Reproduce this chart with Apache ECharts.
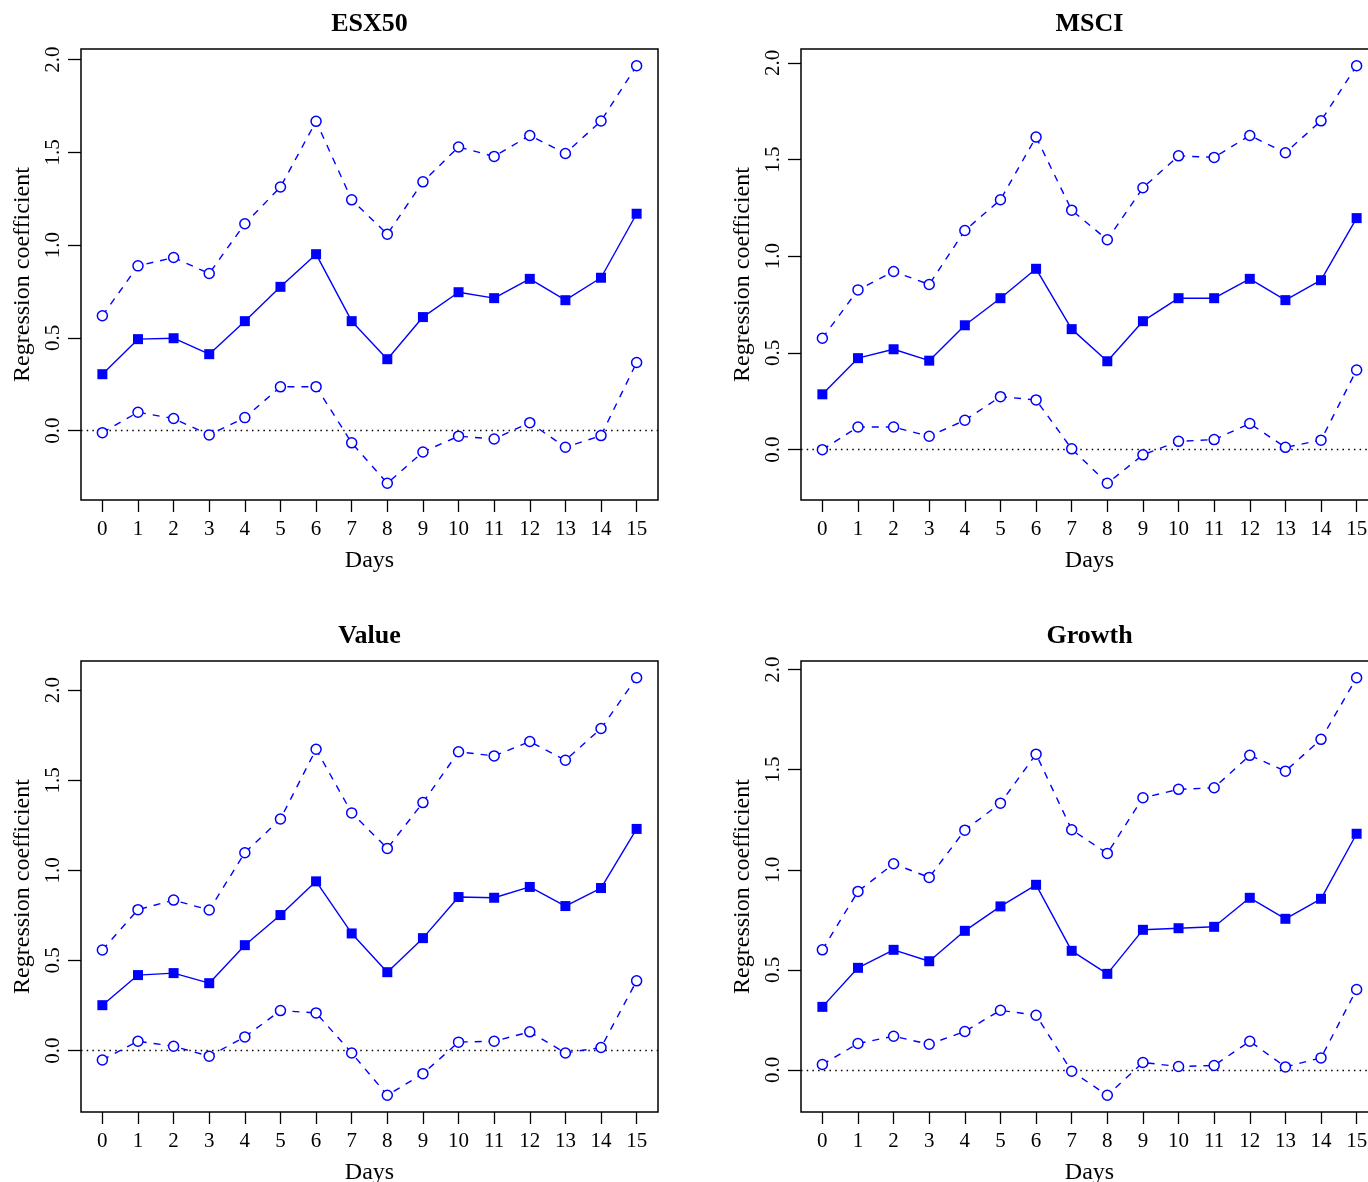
<!DOCTYPE html>
<html>
<head>
<meta charset="utf-8">
<script src="https://cdn.jsdelivr.net/npm/echarts@6/dist/echarts.min.js"></script>
<style>
html,body{margin:0;padding:0;background:#fff;overflow:hidden;width:1368px;height:1182px;}
#c{width:1384px;height:1200px;}
</style>
</head>
<body>
<div id="c"></div>
<script>
// ---- data ----
const days = [0,1,2,3,4,5,6,7,8,9,10,11,12,13,14,15];
const xTicks = [0,1,2,3,4,5,6,7,8,9,10,11,12,13,14,15];
const yTicks = [0, 0.5, 1.0, 1.5, 2.0];
const panelTitles = ["ESX50", "MSCI", "Value", "Growth"];

const esxUpper = [0.619,0.888,0.933,0.847,1.115,1.313,1.667,1.244,1.059,1.341,1.529,1.478,1.591,1.494,1.669,1.967];
const esxMid   = [0.304,0.493,0.498,0.412,0.590,0.775,0.951,0.590,0.385,0.612,0.746,0.714,0.818,0.703,0.824,1.169];
const esxLower = [-0.011,0.099,0.065,-0.023,0.070,0.236,0.237,-0.066,-0.284,-0.115,-0.030,-0.045,0.043,-0.090,-0.027,0.367];

const msciUpper = [0.576,0.826,0.921,0.854,1.133,1.292,1.616,1.238,1.085,1.354,1.519,1.511,1.624,1.535,1.700,1.985];
const msciMid   = [0.286,0.473,0.519,0.460,0.643,0.783,0.935,0.623,0.457,0.664,0.783,0.783,0.883,0.773,0.876,1.197];
const msciLower = [0.000,0.117,0.117,0.069,0.152,0.274,0.257,0.004,-0.174,-0.027,0.043,0.052,0.135,0.012,0.049,0.412];

const valueUpper = [0.558,0.782,0.835,0.780,1.098,1.285,1.672,1.319,1.122,1.376,1.658,1.635,1.715,1.611,1.787,2.069];
const valueMid   = [0.252,0.419,0.430,0.374,0.585,0.752,0.939,0.650,0.435,0.624,0.852,0.848,0.908,0.802,0.902,1.230];
const valueLower = [-0.052,0.052,0.024,-0.031,0.076,0.222,0.209,-0.013,-0.248,-0.128,0.047,0.052,0.104,-0.013,0.017,0.387];

const growthUpper = [0.600,0.892,1.030,0.962,1.198,1.333,1.578,1.200,1.082,1.360,1.402,1.410,1.572,1.493,1.652,1.960];
const growthMid   = [0.315,0.510,0.600,0.543,0.695,0.817,0.925,0.595,0.480,0.700,0.708,0.715,0.860,0.755,0.855,1.180];
const growthLower = [0.027,0.132,0.168,0.128,0.192,0.298,0.273,-0.007,-0.127,0.037,0.017,0.022,0.143,0.015,0.060,0.402];

const panels = [
  {upper: esxUpper, mid: esxMid, lower: esxLower},
  {upper: msciUpper, mid: msciMid, lower: msciLower},
  {upper: valueUpper, mid: valueMid, lower: valueLower},
  {upper: growthUpper, mid: growthMid, lower: growthLower}
];

// ---- layout / style ----
const FONT = "'Liberation Serif', 'DejaVu Serif', serif";
const BLUE = '#0000ff';
const gridPos = [
  {left: 81, top: 49, width: 577, height: 451},
  {left: 801, top: 49, width: 577, height: 451},
  {left: 81, top: 661, width: 577, height: 451},
  {left: 801, top: 661, width: 577, height: 451}
];

const grids = [], xAxes = [], yAxes = [], series = [], titles = [];

panels.forEach((p, i) => {
  const g = gridPos[i];
  grids.push({left: g.left, top: g.top, width: g.width, height: g.height,
    outerBoundsMode: 'none', containLabel: false,
    show: true, borderColor: '#000', borderWidth: 1.5, backgroundColor: 'transparent'});
  titles.push({text: panelTitles[i], left: g.left + g.width / 2 - 5, top: g.top - 43, textAlign: 'center',
    textStyle: {fontFamily: FONT, fontWeight: 'bold', fontSize: 26, color: '#000'}});

  const all = p.upper.concat(p.mid, p.lower);
  const lo = Math.min.apply(null, all), hi = Math.max.apply(null, all);
  const pad = (hi - lo) * 0.04;
  const xlo = days[0], xhi = days[days.length - 1], xpad = (xhi - xlo) * 0.04;

  xAxes.push({
    type: 'value', gridIndex: i, min: xlo - xpad, max: xhi + xpad, position: 'bottom',
    axisLine: {show: false, onZero: false}, splitLine: {show: false},
    axisTick: {show: true, inside: false, length: 12, customValues: xTicks, lineStyle: {color: '#000', width: 1.3}},
    axisLabel: {customValues: xTicks, fontFamily: FONT, fontSize: 21, color: '#000', margin: 19},
    name: 'Days', nameLocation: 'middle', nameGap: 49,
    nameTextStyle: {fontFamily: FONT, fontSize: 24, color: '#000'}
  });
  yAxes.push({
    type: 'value', gridIndex: i, min: lo - pad, max: hi + pad, position: 'left',
    axisLine: {show: false, onZero: false}, splitLine: {show: false},
    axisTick: {show: true, inside: false, length: 13, customValues: yTicks, lineStyle: {color: '#000', width: 1.3}},
    axisLabel: {customValues: yTicks, rotate: 90, fontFamily: FONT, fontSize: 21, color: '#000', margin: 17,
      formatter: v => v.toFixed(1)},
    name: 'Regression coefficient', nameLocation: 'middle', nameGap: 46,
    nameTextStyle: {fontFamily: FONT, fontSize: 24, color: '#000'}
  });

  const pts = arr => days.map((d, k) => [d, arr[k]]);
  const bandStyle = {
    type: 'line', xAxisIndex: i, yAxisIndex: i, symbol: 'circle', symbolSize: 10,
    lineStyle: {color: BLUE, width: 1.4, type: [7, 7]},
    itemStyle: {color: '#fff', borderColor: BLUE, borderWidth: 1.5},
    z: 3
  };
  series.push(Object.assign({}, bandStyle, {data: pts(p.upper)}));
  series.push(Object.assign({}, bandStyle, {data: pts(p.lower)}));
  series.push({
    type: 'line', xAxisIndex: i, yAxisIndex: i, symbol: 'rect', symbolSize: 10,
    lineStyle: {color: BLUE, width: 1.4, type: 'solid'},
    itemStyle: {color: BLUE},
    data: pts(p.mid), z: 4,
    markLine: {silent: true, symbol: ['none', 'none'], label: {show: false},
      lineStyle: {color: '#000', width: 1.3, type: [1.5, 4.2]},
      data: [{yAxis: 0}], z: 1}
  });
});

const chart = echarts.init(document.getElementById('c'), null, {renderer: 'canvas'});
chart.setOption({
  animation: false,
  backgroundColor: '#fff',
  title: titles,
  grid: grids,
  xAxis: xAxes,
  yAxis: yAxes,
  series: series
});
</script>
</body>
</html>
